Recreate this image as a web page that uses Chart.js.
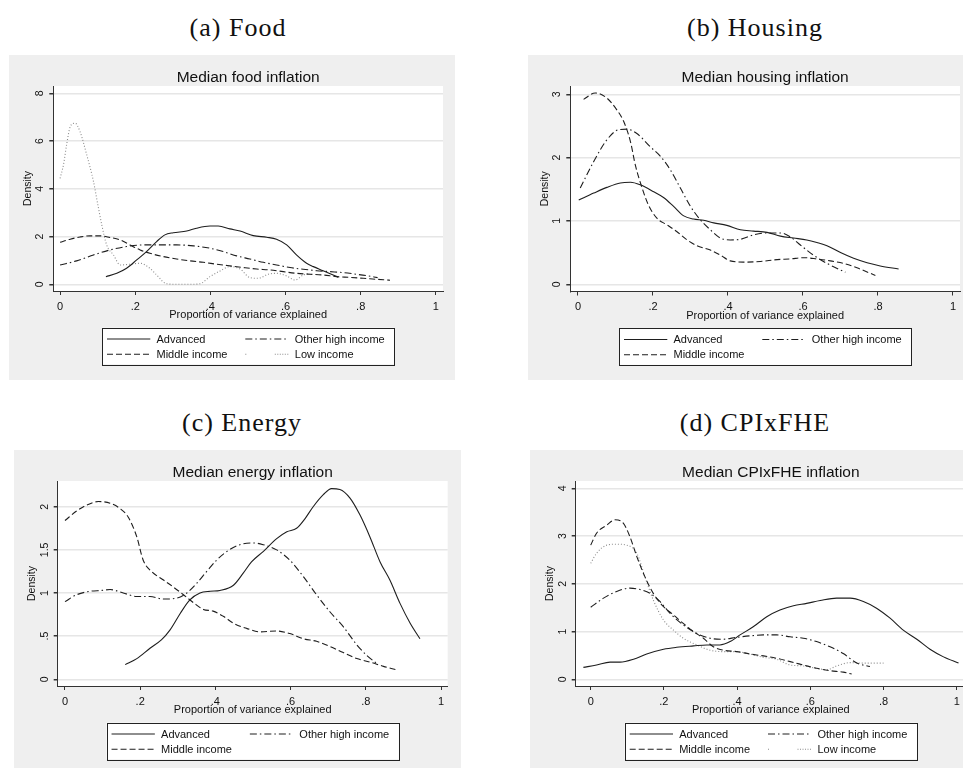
<!DOCTYPE html>
<html>
<head>
<meta charset="utf-8">
<title>Proportion of variance explained by median inflation</title>
<script src="https://cdn.jsdelivr.net/npm/chart.js"></script>
<style>
  body { margin: 0; width: 963px; height: 768px; overflow: hidden; background: #fff; position: relative; }
  canvas { position: absolute; }
  .cap { position: absolute; font-family: "Liberation Serif", serif; font-size: 26px; letter-spacing: 1px; color: #111;
         transform: translate(-50%, -50%); white-space: nowrap; }
</style>
</head>
<body>
<div class="cap" style="left:238px;top:28px">(a) Food</div>
<div class="cap" style="left:755px;top:28px">(b) Housing</div>
<div class="cap" style="left:242px;top:423px">(c) Energy</div>
<div class="cap" style="left:755px;top:423px">(d) CPIxFHE</div>

<canvas id="food"></canvas>
<canvas id="housing"></canvas>
<canvas id="energy"></canvas>
<canvas id="cpi"></canvas>

<script>
// tick values / labels
const xTicks = [0, 0.2, 0.4, 0.6, 0.8, 1];
const xTickLabels = ['0', '.2', '.4', '.6', '.8', '1'];
const foodYTicks = [0, 2, 4, 6, 8];
const foodYLabels = ['0', '2', '4', '6', '8'];
const housingYTicks = [0, 1, 2, 3];
const housingYLabels = ['0', '1', '2', '3'];
const energyYTicks = [0, 0.5, 1, 1.5, 2];
const energyYLabels = ['0', '.5', '1', '1.5', '2'];
const cpiYTicks = [0, 1, 2, 3, 4];
const cpiYLabels = ['0', '1', '2', '3', '4'];

// density curves, [proportion, density]
const foodAdvanced = [[0.122,0.32],[0.151,0.46],[0.177,0.67],[0.204,1.02],[0.23,1.37],[0.257,1.79],[0.279,2.07],[0.301,2.16],[0.337,2.23],[0.363,2.35],[0.399,2.44],[0.421,2.44],[0.452,2.32],[0.479,2.23],[0.514,2.04],[0.55,1.97],[0.576,1.89],[0.603,1.65],[0.629,1.23],[0.656,0.88],[0.674,0.74],[0.70,0.57],[0.74,0.30]];
const foodOtherHigh = [[0,0.81],[0.044,0.98],[0.089,1.23],[0.133,1.44],[0.177,1.58],[0.222,1.65],[0.266,1.65],[0.31,1.65],[0.355,1.61],[0.399,1.51],[0.434,1.37],[0.47,1.19],[0.505,1.06],[0.541,0.92],[0.576,0.81],[0.612,0.70],[0.647,0.63],[0.683,0.57],[0.718,0.53],[0.754,0.49],[0.789,0.42],[0.816,0.36],[0.845,0.28]];
const foodMiddle = [[0,1.76],[0.027,1.89],[0.053,1.98],[0.08,2.03],[0.106,2.03],[0.133,1.96],[0.16,1.86],[0.186,1.65],[0.213,1.44],[0.239,1.30],[0.275,1.16],[0.31,1.06],[0.346,0.98],[0.381,0.92],[0.417,0.84],[0.452,0.77],[0.488,0.70],[0.523,0.64],[0.559,0.60],[0.594,0.53],[0.629,0.46],[0.665,0.42],[0.70,0.39],[0.736,0.32],[0.771,0.29],[0.807,0.25],[0.842,0.21],[0.878,0.17]];
const foodLow = [[0,4.44],[0.009,5.0],[0.018,5.9],[0.027,6.6],[0.04,6.75],[0.053,6.4],[0.071,5.42],[0.089,4.3],[0.099,3.46],[0.111,2.49],[0.124,1.65],[0.142,1.23],[0.16,0.81],[0.186,0.84],[0.213,0.88],[0.239,0.67],[0.257,0.39],[0.284,0.02],[0.31,0],[0.346,0],[0.372,0.02],[0.399,0.32],[0.426,0.56],[0.452,0.74],[0.479,0.64],[0.505,0.28],[0.527,0.25],[0.554,0.42],[0.576,0.46],[0.603,0.35],[0.625,0.18],[0.647,0.39],[0.665,0.46]];

const housingAdvanced = [[0.002,1.33],[0.042,1.44],[0.077,1.53],[0.113,1.60],[0.14,1.61],[0.166,1.57],[0.202,1.46],[0.228,1.37],[0.255,1.23],[0.282,1.08],[0.308,1.03],[0.335,1.01],[0.362,0.97],[0.397,0.93],[0.433,0.86],[0.468,0.84],[0.504,0.82],[0.54,0.76],[0.575,0.73],[0.61,0.70],[0.637,0.66],[0.664,0.61],[0.70,0.50],[0.735,0.41],[0.771,0.34],[0.806,0.29],[0.855,0.24]];
const housingOtherHigh = [[0.006,1.52],[0.042,1.94],[0.077,2.28],[0.108,2.44],[0.131,2.45],[0.157,2.38],[0.193,2.17],[0.22,2.02],[0.246,1.81],[0.273,1.52],[0.30,1.23],[0.326,1.02],[0.353,0.86],[0.38,0.73],[0.406,0.70],[0.433,0.71],[0.468,0.78],[0.504,0.81],[0.54,0.81],[0.566,0.75],[0.593,0.62],[0.628,0.46],[0.664,0.33],[0.713,0.19]];
const housingMiddle = [[0.015,2.92],[0.046,3.02],[0.077,2.94],[0.104,2.75],[0.122,2.57],[0.14,2.25],[0.153,1.88],[0.171,1.52],[0.188,1.25],[0.211,1.04],[0.237,0.94],[0.264,0.83],[0.291,0.70],[0.317,0.61],[0.353,0.54],[0.38,0.46],[0.406,0.37],[0.442,0.35],[0.486,0.36],[0.531,0.39],[0.566,0.40],[0.602,0.42],[0.637,0.40],[0.673,0.37],[0.708,0.33],[0.744,0.26],[0.793,0.14]];

const energyAdvanced = [[0.16,0.17],[0.191,0.24],[0.226,0.36],[0.257,0.46],[0.279,0.57],[0.306,0.76],[0.332,0.92],[0.359,1.0],[0.386,1.02],[0.412,1.03],[0.448,1.09],[0.474,1.23],[0.496,1.36],[0.527,1.48],[0.563,1.63],[0.59,1.71],[0.616,1.75],[0.638,1.86],[0.66,2.0],[0.687,2.14],[0.709,2.21],[0.731,2.20],[0.758,2.10],[0.785,1.90],[0.811,1.65],[0.838,1.36],[0.864,1.15],[0.891,0.88],[0.918,0.65],[0.944,0.47]];
const energyOtherHigh = [[0,0.90],[0.031,0.98],[0.066,1.02],[0.098,1.03],[0.12,1.04],[0.155,1.0],[0.191,0.96],[0.226,0.96],[0.262,0.93],[0.297,0.94],[0.324,1.0],[0.35,1.11],[0.377,1.25],[0.403,1.38],[0.43,1.48],[0.465,1.56],[0.501,1.58],[0.527,1.56],[0.563,1.50],[0.598,1.38],[0.634,1.19],[0.669,0.98],[0.705,0.78],[0.74,0.61],[0.776,0.40],[0.802,0.28],[0.833,0.17]];
const energyMiddle = [[0,1.84],[0.031,1.95],[0.058,2.02],[0.089,2.06],[0.12,2.04],[0.146,1.98],[0.168,1.88],[0.191,1.65],[0.208,1.38],[0.23,1.25],[0.262,1.15],[0.288,1.07],[0.315,0.98],[0.341,0.89],[0.368,0.81],[0.394,0.79],[0.421,0.73],[0.448,0.65],[0.483,0.59],[0.519,0.55],[0.563,0.56],[0.598,0.53],[0.634,0.47],[0.669,0.44],[0.705,0.38],[0.74,0.31],[0.776,0.24],[0.811,0.20],[0.847,0.15],[0.882,0.11]];

const cpiAdvanced = [[-0.02,0.25],[0.016,0.30],[0.053,0.36],[0.08,0.36],[0.117,0.42],[0.153,0.53],[0.199,0.63],[0.235,0.67],[0.281,0.70],[0.317,0.72],[0.353,0.72],[0.381,0.79],[0.408,0.93],[0.444,1.10],[0.481,1.31],[0.517,1.45],[0.554,1.54],[0.59,1.59],[0.627,1.65],[0.672,1.70],[0.709,1.70],[0.745,1.63],[0.781,1.49],[0.818,1.28],[0.854,1.03],[0.891,0.84],[0.927,0.63],[0.964,0.47],[1.005,0.34]];
const cpiOtherHigh = [[0,1.51],[0.035,1.70],[0.071,1.84],[0.107,1.91],[0.135,1.88],[0.162,1.80],[0.189,1.63],[0.217,1.38],[0.253,1.14],[0.29,0.96],[0.326,0.86],[0.362,0.84],[0.399,0.88],[0.435,0.91],[0.472,0.93],[0.508,0.93],[0.545,0.89],[0.581,0.86],[0.617,0.79],[0.654,0.68],[0.69,0.54],[0.727,0.34],[0.763,0.27]];
const cpiMiddle = [[0,2.81],[0.016,3.06],[0.044,3.23],[0.066,3.34],[0.089,3.27],[0.107,2.99],[0.126,2.57],[0.148,2.15],[0.171,1.80],[0.199,1.52],[0.226,1.35],[0.253,1.17],[0.281,1.0],[0.308,0.86],[0.335,0.68],[0.362,0.61],[0.399,0.58],[0.435,0.53],[0.472,0.49],[0.508,0.44],[0.545,0.37],[0.581,0.30],[0.617,0.23],[0.654,0.18],[0.69,0.15],[0.713,0.11]];
const cpiLow = [[0,2.43],[0.016,2.64],[0.044,2.81],[0.071,2.83],[0.098,2.81],[0.126,2.64],[0.148,2.15],[0.171,1.66],[0.199,1.24],[0.226,1.03],[0.253,0.86],[0.29,0.72],[0.326,0.61],[0.362,0.58],[0.399,0.58],[0.435,0.53],[0.472,0.46],[0.508,0.42],[0.545,0.30],[0.581,0.28],[0.617,0.23],[0.645,0.20],[0.672,0.28],[0.709,0.35],[0.745,0.34],[0.80,0.34]];

// line looks per group (stata mono style)
const looks = {
  'Advanced':          { color: '#1e1e1e', dash: [] },
  'Other high income': { color: '#1e1e1e', dash: [7, 3, 1.5, 3] },
  'Middle income':     { color: '#1e1e1e', dash: [6, 3] },
  'Low income':        { color: '#8c8c8c', dash: [1, 2], legendDash: [1, 28.5, 1, 1.5, 1, 1.5, 1, 1.5, 1, 1.5, 1, 1.5, 1, 1.5] }
};

const FONT = '"Liberation Sans", Arial, sans-serif';

// gray frame + white plot region
const frame = {
  id: 'frame',
  beforeDraw(chart) {
    const { ctx, chartArea: a, width, height } = chart;
    ctx.save();
    ctx.fillStyle = '#efefef';
    ctx.fillRect(0, 0, width, height);
    ctx.fillStyle = '#fff';
    ctx.fillRect(a.left, a.top, a.right - a.left, a.bottom - a.top);
    ctx.restore();
  }
};

// stata style vertical y tick labels
const yLabels = {
  id: 'yLabels',
  afterDraw(chart) {
    const { ctx, chartArea, scales: { y } } = chart;
    ctx.save();
    ctx.font = '10.5px ' + FONT;
    ctx.fillStyle = '#111';
    ctx.textAlign = 'center';
    ctx.textBaseline = 'middle';
    y.ticks.forEach(t => {
      ctx.save();
      ctx.translate(chartArea.left - 13, y.getPixelForValue(t.value));
      ctx.rotate(-Math.PI / 2);
      ctx.fillText(t.label, 0, 0);
      ctx.restore();
    });
    ctx.restore();
  }
};

// boxed two-column legend under the axis title
const boxLegend = {
  id: 'boxLegend',
  afterDraw(chart) {
    const { ctx, chartArea: a } = chart;
    const w = 292.3, h = 36.6;
    const left = (a.left + a.right) / 2 - w / 2;
    const top = a.bottom + 36.7;
    ctx.save();
    ctx.fillStyle = '#fff';
    ctx.fillRect(left, top, w, h);
    ctx.strokeStyle = '#222';
    ctx.lineWidth = 1;
    ctx.strokeRect(Math.round(left) + 0.5, Math.round(top) + 0.5, Math.round(w), Math.round(h));
    ctx.font = '11px ' + FONT;
    ctx.textBaseline = 'middle';
    chart.data.datasets.forEach((ds, i) => {
      const col = i % 2, row = Math.floor(i / 2);
      const sx = left + (col ? 143.3 : 5);
      const ly = top + (row ? 26.6 : 11.3);
      const look = looks[ds.label];
      ctx.strokeStyle = ds.borderColor;
      ctx.lineWidth = 1.1;
      ctx.setLineDash(look.legendDash || look.dash);
      ctx.beginPath();
      ctx.moveTo(sx, ly);
      ctx.lineTo(sx + 43.3, ly);
      ctx.stroke();
      ctx.setLineDash([]);
      ctx.fillStyle = '#111';
      ctx.fillText(ds.label, sx + 49.5, ly + 0.5);
    });
    ctx.restore();
  }
};

function makePanel(p) {
  const cv = document.getElementById(p.id);
  const W = p.box[2] - p.box[0], H = p.box[3] - p.box[1];
  cv.width = W; cv.height = H;
  cv.style.left = p.box[0] + 'px';
  cv.style.top = p.box[1] + 'px';

  const plotL = p.plot[0] - p.box[0], plotT = p.plot[1] - p.box[1];
  const plotR = p.box[2] - p.plot[2], plotB = p.plot[3] - p.box[1];
  const xAxisH = 31;
  const titleLH = 15.5 * 1.2;
  const titlePadTop = plotT - 8.5 - titleLH / 2;
  const yTitlePad = (plotL - 25.5) - 10.5 * 1.2 / 2;

  new Chart(cv, {
    type: 'line',
    data: {
      datasets: p.series.map(([name, pts]) => ({
        label: name,
        data: pts.map(([x, y]) => ({ x, y })),
        borderColor: looks[name].color,
        borderDash: looks[name].dash,
        borderWidth: 1.1,
        pointRadius: 0,
        fill: false,
        cubicInterpolationMode: 'monotone'
      }))
    },
    options: {
      responsive: false,
      animation: false,
      layout: { padding: { left: 0, top: 0, right: plotR, bottom: H - plotB - xAxisH } },
      plugins: {
        legend: { display: false },
        tooltip: { enabled: false },
        title: {
          display: true,
          text: p.title,
          fullSize: false,
          color: '#111',
          font: { family: FONT, size: 15.5, weight: 'normal' },
          padding: { top: titlePadTop, bottom: plotT - titlePadTop - titleLH }
        }
      },
      scales: {
        x: {
          type: 'linear',
          min: p.xRange[0], max: p.xRange[1],
          afterBuildTicks: s => { s.ticks = xTicks.map(v => ({ value: v })); },
          afterFit: s => { s.height = xAxisH; },
          ticks: {
            padding: 5,
            color: '#111',
            font: { family: FONT, size: 11 },
            maxRotation: 0,
            callback: v => xTickLabels[xTicks.indexOf(v)]
          },
          grid: { drawOnChartArea: false, drawTicks: true, tickLength: 4, tickColor: '#333', color: '#333' },
          border: { display: true, color: '#333', width: 1 },
          title: {
            display: true,
            text: 'Proportion of variance explained',
            color: '#111',
            font: { family: FONT, size: 11 },
            padding: { top: 0, bottom: 0.3 }
          }
        },
        y: {
          type: 'linear',
          min: p.yRange[0], max: p.yRange[1],
          afterBuildTicks: s => { s.ticks = p.yTicks.map(v => ({ value: v })); },
          afterFit: s => { s.width = plotL; },
          ticks: {
            display: false,
            callback: v => p.yLabels[p.yTicks.indexOf(v)]
          },
          grid: { color: '#e6e6e6', lineWidth: 1.5, tickColor: '#333', tickLength: 4 },
          border: { display: true, color: '#333', width: 1 },
          title: {
            display: true,
            text: 'Density',
            color: '#111',
            font: { family: FONT, size: 10.5 },
            padding: { top: yTitlePad, bottom: 0 }
          }
        }
      }
    },
    plugins: [frame, yLabels, boxLegend]
  });
}

makePanel({
  id: 'food', title: 'Median food inflation',
  box: [9, 55, 455, 380], plot: [53.3, 86, 443, 291],
  xRange: [-0.018, 1.019], yRange: [-0.281, 8.306],
  yTicks: foodYTicks, yLabels: foodYLabels,
  series: [['Advanced', foodAdvanced], ['Other high income', foodOtherHigh], ['Middle income', foodMiddle], ['Low income', foodLow]]
});
makePanel({
  id: 'housing', title: 'Median housing inflation',
  box: [528, 55, 963, 380], plot: [570.3, 86, 960, 291.5],
  xRange: [-0.0205, 1.0187], yRange: [-0.114, 3.131],
  yTicks: housingYTicks, yLabels: housingYLabels,
  series: [['Advanced', housingAdvanced], ['Other high income', housingOtherHigh], ['Middle income', housingMiddle]]
});
makePanel({
  id: 'energy', title: 'Median energy inflation',
  box: [14, 450, 461, 768], plot: [57.7, 481, 447.7, 686],
  xRange: [-0.0194, 1.0178], yRange: [-0.0776, 2.298],
  yTicks: energyYTicks, yLabels: energyYLabels,
  series: [['Advanced', energyAdvanced], ['Other high income', energyOtherHigh], ['Middle income', energyMiddle]]
});
makePanel({
  id: 'cpi', title: 'Median CPIxFHE inflation',
  box: [530, 450, 966, 768], plot: [575.7, 481, 966, 686],
  xRange: [-0.041, 1.0254], yRange: [-0.14, 4.153],
  yTicks: cpiYTicks, yLabels: cpiYLabels,
  series: [['Advanced', cpiAdvanced], ['Other high income', cpiOtherHigh], ['Middle income', cpiMiddle], ['Low income', cpiLow]]
});
</script>
</body>
</html>
